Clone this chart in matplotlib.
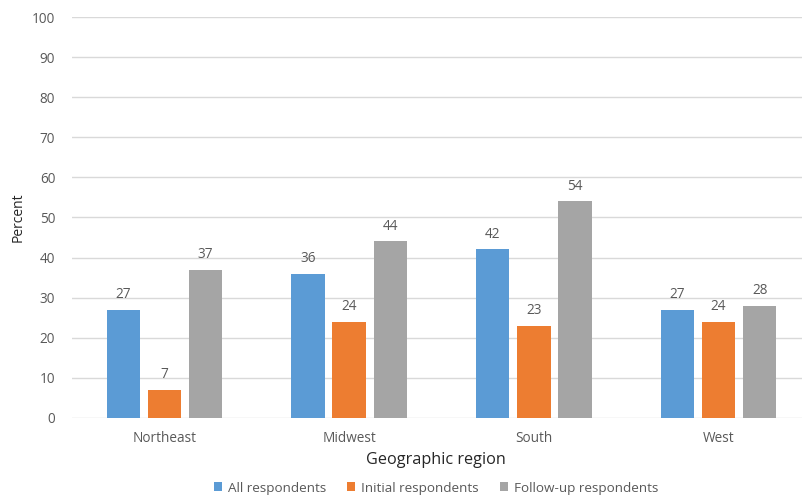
import matplotlib
matplotlib.use("Agg")
import matplotlib.pyplot as plt
import numpy as np

categories = ["Northeast", "Midwest", "South", "West"]
series_names = ["All respondents", "Initial respondents", "Follow-up respondents"]
all_resp = [27, 36, 42, 27]
initial_resp = [7, 24, 23, 24]
followup_resp = [37, 44, 54, 28]
yticks = [0, 10, 20, 30, 40, 50, 60, 70, 80, 90, 100]

colors = ["#5B9BD5", "#ED7D31", "#A5A5A5"]
text_color = "#595959"

plt.rcParams['font.family'] = ['Open Sans', 'DejaVu Sans']

fig = plt.figure(figsize=(8.03, 4.98), dpi=100)
W, H = 803, 498
left_px, right_px = 72, 811
bottom_px, top_px = 417.5, 17.5
ax = fig.add_axes([left_px / W, (H - bottom_px) / H, (right_px - left_px) / W, (bottom_px - top_px) / H])

x = np.arange(len(categories))
width = 0.18
offset = 0.222
data = [all_resp, initial_resp, followup_resp]
for i, (vals, name, c) in enumerate(zip(data, series_names, colors)):
    pos = x + (i - 1) * offset
    bars = ax.bar(pos, vals, width, color=c, label=name, zorder=3)
    for b, v in zip(bars, vals):
        ax.text(b.get_x() + b.get_width() / 2, v + 1.8, str(v), ha='center', va='bottom',
                fontsize=9.8, color=text_color)

ax.set_xlim(-0.5, len(categories) - 0.5)
ax.set_ylim(0, 100)
ax.set_yticks(yticks)
ax.set_xticks(x)
ax.set_xticklabels(categories)
ax.tick_params(axis='both', length=0, labelsize=9.8, colors=text_color)
ax.tick_params(axis='y', pad=12)
ax.tick_params(axis='x', pad=10)
for s in ax.spines.values():
    s.set_visible(False)
ax.yaxis.grid(True, color="#D9D9D9", linewidth=1, zorder=0)
ax.set_axisbelow(True)

fig.text(18 / W, 1 - 217 / H, "Percent", rotation=90, ha='center', va='center', fontsize=10, color="#262626")
fig.text(436 / W, 1 - 460 / H, "Geographic region", ha='center', va='center', fontsize=11.7, color="#262626")

handles, labels = ax.get_legend_handles_labels()
fig.legend(handles, labels, loc='center', bbox_to_anchor=(436 / W, 1 - 488 / H), ncol=3, frameon=False,
           fontsize=9.7, handlelength=0.6, handleheight=0.6, handletextpad=0.4, columnspacing=1.6,
           labelcolor=text_color)

fig.savefig("out.png", dpi=100)
